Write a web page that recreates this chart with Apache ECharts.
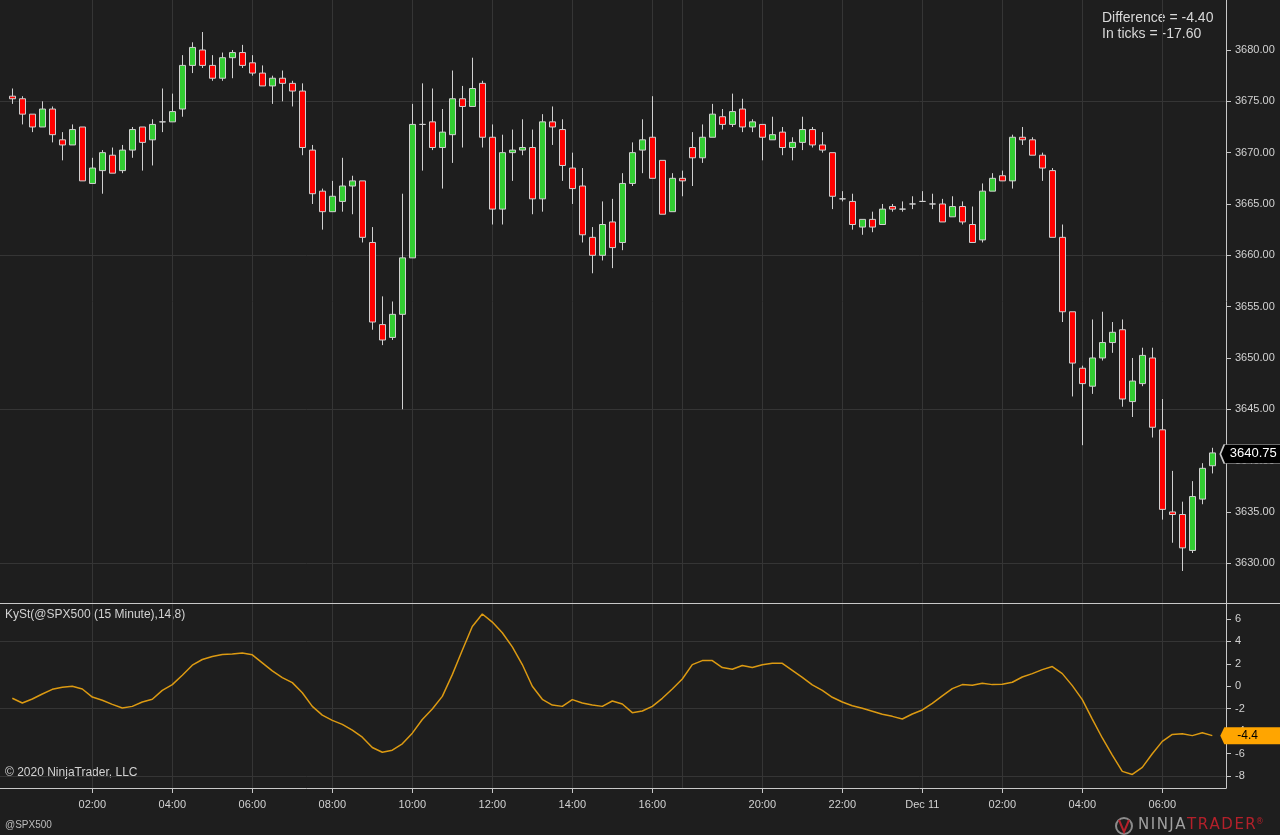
<!DOCTYPE html>
<html>
<head>
<meta charset="utf-8">
<title>@SPX500 15 Minute</title>
<script src="https://cdn.jsdelivr.net/npm/echarts@6/dist/echarts.min.js"></script>
<style>
html, body { margin: 0; padding: 0; background: #1e1e1e; }
#chart { width: 1280px; height: 835px; }
</style>
</head>
<body>
<div id="chart"></div>
<script>
// 15 minute bars, index 0 = first bar on the left
var opens = [
    3675.5, 3675.25, 3673.75, 3672.5, 3674.25, 3671.25, 3670.75, 3672.5, 3667.0, 3668.25,
    3669.75, 3668.25, 3670.25, 3672.5, 3671.25, 3673.0, 3673.0, 3674.25, 3678.5, 3680.0,
    3678.5, 3677.25, 3679.25, 3679.75, 3678.75, 3677.75, 3676.5, 3677.25, 3676.75, 3676.0,
    3670.25, 3666.25, 3664.25, 3665.25, 3666.75, 3667.25, 3661.25, 3653.25, 3652.0, 3654.25,
    3659.75, 3672.75, 3673.0, 3670.5, 3671.75, 3675.25, 3674.5, 3676.75, 3671.5, 3664.5,
    3670.0, 3670.25, 3670.5, 3665.5, 3673.0, 3672.25, 3668.5, 3666.75, 3661.75, 3660.0,
    3663.25, 3661.25, 3667.0, 3670.25, 3671.5, 3669.25, 3664.25, 3667.5, 3670.5, 3669.5,
    3671.5, 3673.5, 3672.75, 3674.25, 3672.5, 3672.75, 3671.25, 3672.0, 3670.5, 3671.0,
    3672.25, 3670.75, 3670.0, 3665.5, 3665.25, 3662.75, 3663.5, 3663.0, 3664.75, 3664.5,
    3665.0, 3665.25, 3665.0, 3665.0, 3663.75, 3664.75, 3663.0, 3661.5, 3666.25, 3667.75,
    3667.25, 3671.5, 3671.25, 3669.75, 3668.25, 3661.75, 3654.5, 3649.0, 3647.25, 3650.0,
    3651.5, 3652.75, 3645.75, 3647.5, 3650.0, 3643.0, 3635.0, 3634.75, 3631.25, 3636.25,
    3639.5
];
var highs = [
    3676.25, 3675.5, 3673.75, 3675.0, 3674.5, 3672.0, 3672.75, 3672.5, 3669.5, 3670.25,
    3670.5, 3670.75, 3672.5, 3672.5, 3673.25, 3676.25, 3675.75, 3679.5, 3680.75, 3681.75,
    3679.5, 3679.75, 3680.0, 3680.5, 3679.5, 3678.5, 3677.5, 3678.0, 3677.0, 3676.75,
    3670.75, 3666.5, 3667.25, 3669.5, 3667.75, 3667.25, 3662.75, 3656.0, 3655.5, 3666.0,
    3674.75, 3676.75, 3676.25, 3674.25, 3678.0, 3676.5, 3679.25, 3677.0, 3672.75, 3671.75,
    3672.25, 3673.25, 3672.25, 3673.75, 3674.5, 3673.25, 3670.0, 3668.5, 3662.75, 3665.25,
    3665.5, 3668.0, 3671.0, 3673.25, 3675.5, 3669.25, 3668.0, 3668.25, 3672.0, 3672.75,
    3674.75, 3674.25, 3675.75, 3675.25, 3673.25, 3672.75, 3673.5, 3672.5, 3671.5, 3673.5,
    3672.5, 3672.0, 3670.0, 3666.25, 3666.0, 3663.5, 3664.25, 3665.0, 3665.0, 3665.25,
    3665.75, 3666.25, 3666.0, 3665.5, 3665.75, 3665.25, 3664.75, 3667.0, 3668.0, 3668.25,
    3671.75, 3672.5, 3671.5, 3670.0, 3668.5, 3663.0, 3654.5, 3649.25, 3653.75, 3654.5,
    3653.5, 3653.75, 3650.0, 3651.0, 3651.0, 3646.0, 3639.0, 3636.0, 3638.0, 3639.75,
    3641.25
];
var lows = [
    3674.75, 3672.75, 3672.0, 3672.5, 3671.0, 3669.25, 3670.75, 3667.25, 3667.0, 3666.0,
    3668.0, 3668.0, 3669.5, 3668.25, 3668.75, 3672.0, 3673.0, 3673.5, 3677.75, 3678.25,
    3677.0, 3677.0, 3677.25, 3678.25, 3677.5, 3676.5, 3674.75, 3675.0, 3674.5, 3669.75,
    3665.0, 3662.5, 3664.25, 3664.25, 3664.0, 3661.25, 3652.75, 3651.25, 3651.75, 3645.0,
    3659.75, 3668.25, 3670.25, 3666.5, 3669.0, 3670.5, 3674.5, 3670.5, 3663.0, 3663.0,
    3667.25, 3669.75, 3664.0, 3664.25, 3670.75, 3667.25, 3665.0, 3661.25, 3658.25, 3659.5,
    3658.75, 3660.5, 3666.75, 3668.0, 3667.5, 3664.0, 3664.25, 3665.75, 3666.75, 3669.0,
    3671.5, 3672.25, 3672.5, 3672.0, 3672.0, 3669.25, 3671.25, 3669.75, 3669.25, 3670.25,
    3670.5, 3670.0, 3664.5, 3665.25, 3662.5, 3662.0, 3662.25, 3663.0, 3664.25, 3664.25,
    3664.5, 3665.25, 3664.5, 3663.25, 3663.75, 3663.0, 3661.25, 3661.25, 3666.25, 3667.25,
    3666.5, 3670.75, 3669.75, 3667.25, 3661.75, 3653.5, 3646.25, 3641.5, 3646.5, 3649.75,
    3650.5, 3645.25, 3644.25, 3647.25, 3642.25, 3634.25, 3632.0, 3629.25, 3631.0, 3635.75,
    3638.75
];
var closes = [
    3675.25, 3673.75, 3672.5, 3674.25, 3671.75, 3670.75, 3672.25, 3667.25, 3668.5, 3670.0,
    3668.0, 3670.25, 3672.25, 3671.0, 3672.75, 3673.0, 3674.0, 3678.5, 3680.25, 3678.5,
    3677.25, 3679.25, 3679.75, 3678.5, 3677.75, 3676.5, 3677.25, 3676.75, 3676.0, 3670.5,
    3666.0, 3664.25, 3665.75, 3666.75, 3667.25, 3661.75, 3653.5, 3651.75, 3654.25, 3659.75,
    3672.75, 3672.75, 3670.5, 3672.0, 3675.25, 3674.5, 3676.25, 3671.5, 3664.5, 3670.0,
    3670.25, 3670.5, 3665.5, 3673.0, 3672.5, 3668.75, 3666.5, 3662.0, 3660.0, 3663.0,
    3660.75, 3667.0, 3670.0, 3671.25, 3667.5, 3664.0, 3667.5, 3667.25, 3669.5, 3671.5,
    3673.75, 3672.75, 3674.0, 3672.5, 3673.0, 3671.5, 3671.75, 3670.5, 3671.0, 3672.25,
    3670.75, 3670.25, 3665.75, 3665.5, 3663.0, 3663.5, 3662.75, 3664.5, 3664.5, 3664.5,
    3665.0, 3665.25, 3665.0, 3663.25, 3664.75, 3663.25, 3661.25, 3666.25, 3667.5, 3667.25,
    3671.5, 3671.25, 3669.75, 3668.5, 3661.75, 3654.5, 3649.5, 3647.5, 3650.0, 3651.5,
    3652.5, 3646.0, 3647.75, 3650.25, 3643.25, 3635.25, 3634.75, 3631.5, 3636.5, 3639.25,
    3640.75
];
// KySt(14,8) indicator, one value per bar
var kyst = [
    -1.07, -1.49, -1.13, -0.69, -0.27, -0.09, 0.0, -0.24, -0.96, -1.25,
    -1.61, -1.94, -1.79, -1.4, -1.16, -0.36, 0.15, 0.99, 1.88, 2.39,
    2.66, 2.84, 2.87, 2.96, 2.81, 2.09, 1.37, 0.78, 0.33, -0.57,
    -1.79, -2.57, -3.04, -3.4, -3.91, -4.54, -5.46, -5.88, -5.7, -5.13,
    -4.18, -2.96, -2.03, -0.9, 1.04, 3.22, 5.34, 6.45, 5.73, 4.78,
    3.52, 1.94, 0.0, -1.16, -1.67, -1.79, -1.19, -1.49, -1.67, -1.79,
    -1.31, -1.58, -2.35, -2.2, -1.79, -1.07, -0.24, 0.65, 1.93, 2.29,
    2.29, 1.67, 1.52, 1.85, 1.67, 1.93, 2.05, 2.05, 1.43, 0.8,
    0.12, -0.36, -0.98, -1.4, -1.73, -1.96, -2.23, -2.5, -2.68, -2.92,
    -2.47, -2.11, -1.52, -0.86, -0.21, 0.15, 0.09, 0.27, 0.15, 0.18,
    0.36, 0.83, 1.13, 1.49, 1.76, 1.13, 0.06, -1.19, -2.92, -4.61,
    -6.13, -7.59, -7.86, -7.23, -6.01, -4.91, -4.29, -4.23, -4.4, -4.14,
    -4.4
];

var timeTicks = [8, 16, 24, 32, 40, 48, 56, 64, 75, 83, 91, 99, 107, 115];
var timeLabels = ['02:00', '04:00', '06:00', '08:00', '10:00', '12:00', '14:00', '16:00',
    '20:00', '22:00', 'Dec 11', '02:00', '04:00', '06:00'];
var sessionBreaks = [67];
var priceTicks = [3630, 3635, 3640, 3645, 3650, 3655, 3660, 3665, 3670, 3675, 3680];
var priceGrid = [3630, 3645, 3660, 3675];
var kystTicks = [-8, -6, -4, -2, 0, 2, 4, 6];
var kystGrid = [-8, -2, 4];

var FONT = 'Liberation Sans, Arial, sans-serif';
var TEXT = '#d2d2d2';
var AXIS = '#c8c8c8';
var GRIDLINE = '#353535';

var candles = opens.map(function (o, i) {
    return [i, o, closes[i], lows[i], highs[i]];
});
var kystLine = kyst.map(function (v, i) { return [i, v]; });
var last = closes.length - 1;

var vLines = timeTicks.concat(sessionBreaks).map(function (i) { return { xAxis: i }; });

function gridLines(values) {
    return {
        silent: true,
        z: 1,
        symbol: ['none', 'none'],
        animation: false,
        label: { show: false },
        emphasis: { disabled: true },
        lineStyle: { color: GRIDLINE, width: 1, type: 'solid' },
        data: values.map(function (v) { return { yAxis: v }; }).concat(vLines)
    };
}

function xLabel(v) {
    var k = timeTicks.indexOf(Math.round(v));
    return k < 0 ? '' : timeLabels[k];
}

var myChart = echarts.init(document.getElementById('chart'), null, { renderer: 'canvas' });
option = {
    backgroundColor: '#1e1e1e',
    animation: false,
    grid: [
        { left: 0, right: 54, top: 0, height: 603 },
        { left: 0, right: 54, top: 604, height: 184 }
    ],
    xAxis: [
        {
            type: 'value', gridIndex: 0, min: -1.23, max: 121.37,
            show: false, splitLine: { show: false }
        },
        {
            type: 'value', gridIndex: 1, min: -1.23, max: 121.37,
            axisLine: { show: true, onZero: false, lineStyle: { color: AXIS } },
            axisTick: { show: true, length: 5, customValues: timeTicks, lineStyle: { color: AXIS } },
            axisLabel: {
                customValues: timeTicks, formatter: xLabel, margin: 11,
                color: TEXT, fontSize: 11, fontFamily: FONT
            },
            splitLine: { show: false }
        }
    ],
    yAxis: [
        {
            type: 'value', gridIndex: 0, position: 'right', min: 3626.13, max: 3684.87,
            axisLine: { show: true, onZero: false, lineStyle: { color: AXIS } },
            axisTick: { show: true, length: 5, customValues: priceTicks, lineStyle: { color: AXIS } },
            axisLabel: {
                customValues: priceTicks, margin: 9, color: TEXT, fontSize: 11, fontFamily: FONT,
                formatter: function (v) { return v.toFixed(2); }
            },
            splitLine: { show: false }
        },
        {
            type: 'value', gridIndex: 1, position: 'right', min: -9.07, max: 7.34,
            axisLine: { show: true, onZero: false, lineStyle: { color: AXIS } },
            axisTick: { show: true, length: 5, customValues: kystTicks, lineStyle: { color: AXIS } },
            axisLabel: {
                customValues: kystTicks, margin: 9, color: TEXT, fontSize: 11, fontFamily: FONT
            },
            splitLine: { show: false }
        }
    ],
    series: [
        {
            name: '@SPX500',
            type: 'candlestick',
            xAxisIndex: 0,
            yAxisIndex: 0,
            z: 3,
            barWidth: 6,
            dimensions: ['bar', 'open', 'close', 'lowest', 'highest'],
            encode: { x: 0, y: [1, 2, 3, 4] },
            data: candles,
            itemStyle: {
                color: '#32cd32',
                color0: '#ff0000',
                borderColor: '#d0d0d0',
                borderColor0: '#d0d0d0',
                borderColorDoji: '#d0d0d0',
                borderWidth: 1
            },
            markLine: gridLines(priceGrid),
            markPoint: {
                silent: true,
                symbol: 'path://M0 9.5L4 0L62 0L62 19L4 19Z',
                symbolSize: [62, 19],
                symbolOffset: [39, 1],
                itemStyle: { color: '#000', borderColor: '#c8c8c8', borderWidth: 1 },
                label: {
                    show: true, position: 'inside', offset: [2, 0],
                    color: '#fff', fontSize: 13, fontFamily: FONT, formatter: '{c}'
                },
                data: [{ coord: [last, closes[last]], value: closes[last].toFixed(2) }]
            }
        },
        {
            name: 'KySt',
            type: 'line',
            xAxisIndex: 1,
            yAxisIndex: 1,
            z: 3,
            showSymbol: false,
            data: kystLine,
            lineStyle: { color: '#dc9a12', width: 1.5 },
            itemStyle: { color: '#dc9a12' },
            markLine: gridLines(kystGrid),
            markPoint: {
                silent: true,
                symbol: 'path://M0 8.5L4 0L62 0L62 17L4 17Z',
                symbolSize: [62, 17],
                symbolOffset: [39, 0],
                itemStyle: { color: '#ffa500' },
                label: {
                    show: true, position: 'insideLeft', distance: 17,
                    color: '#000', fontSize: 12, fontFamily: FONT, formatter: '{c}'
                },
                data: [{ coord: [last, kyst[last]], value: kyst[last] }]
            }
        }
    ],
    graphic: [
        {
            type: 'line', z: 10, silent: true,
            shape: { x1: 0, y1: 603.5, x2: 1280, y2: 603.5 },
            style: { stroke: AXIS, lineWidth: 1 }
        },
        {
            type: 'text', left: 1102, top: 10, silent: true,
            style: { text: 'Difference = -4.40\nIn ticks = -17.60', fill: '#d8d8d8', font: '14px ' + FONT, lineHeight: 16 }
        },
        {
            type: 'text', left: 5, top: 609, silent: true,
            style: { text: 'KySt(@SPX500 (15 Minute),14,8)', fill: TEXT, font: '12px ' + FONT }
        },
        {
            type: 'text', left: 5, top: 767, silent: true,
            style: { text: '\u00a9 2020 NinjaTrader, LLC', fill: TEXT, font: '12px ' + FONT }
        },
        {
            type: 'text', left: 5, top: 820, silent: true,
            style: { text: '@SPX500', fill: '#bdbdbd', font: '10px ' + FONT }
        },
        {
            type: 'circle', silent: true,
            shape: { cx: 1124, cy: 826, r: 8 },
            style: { fill: 'none', stroke: '#8c8c8c', lineWidth: 2 }
        },
        {
            type: 'polyline', silent: true,
            shape: { points: [[1119, 820], [1124, 832], [1129, 820]] },
            style: { fill: 'none', stroke: '#b3202a', lineWidth: 2 }
        },
        {
            type: 'text', left: 1138, top: 818, silent: true,
            style: {
                text: '{a|N\u200aI\u200aN\u200aJ\u200aA\u200a}{b|T\u200aR\u200aA\u200aD\u200aE\u200aR}{c|\u00ae}',
                rich: {
                    a: { fill: '#a0a0a0', font: '15px DejaVu Sans, sans-serif' },
                    b: { fill: '#b3202a', font: '15px DejaVu Sans, sans-serif' },
                    c: { fill: '#b3202a', font: '8px DejaVu Sans, sans-serif', verticalAlign: 'top' }
                }
            }
        }
    ]
};
myChart.setOption(option);
</script>
</body>
</html>
